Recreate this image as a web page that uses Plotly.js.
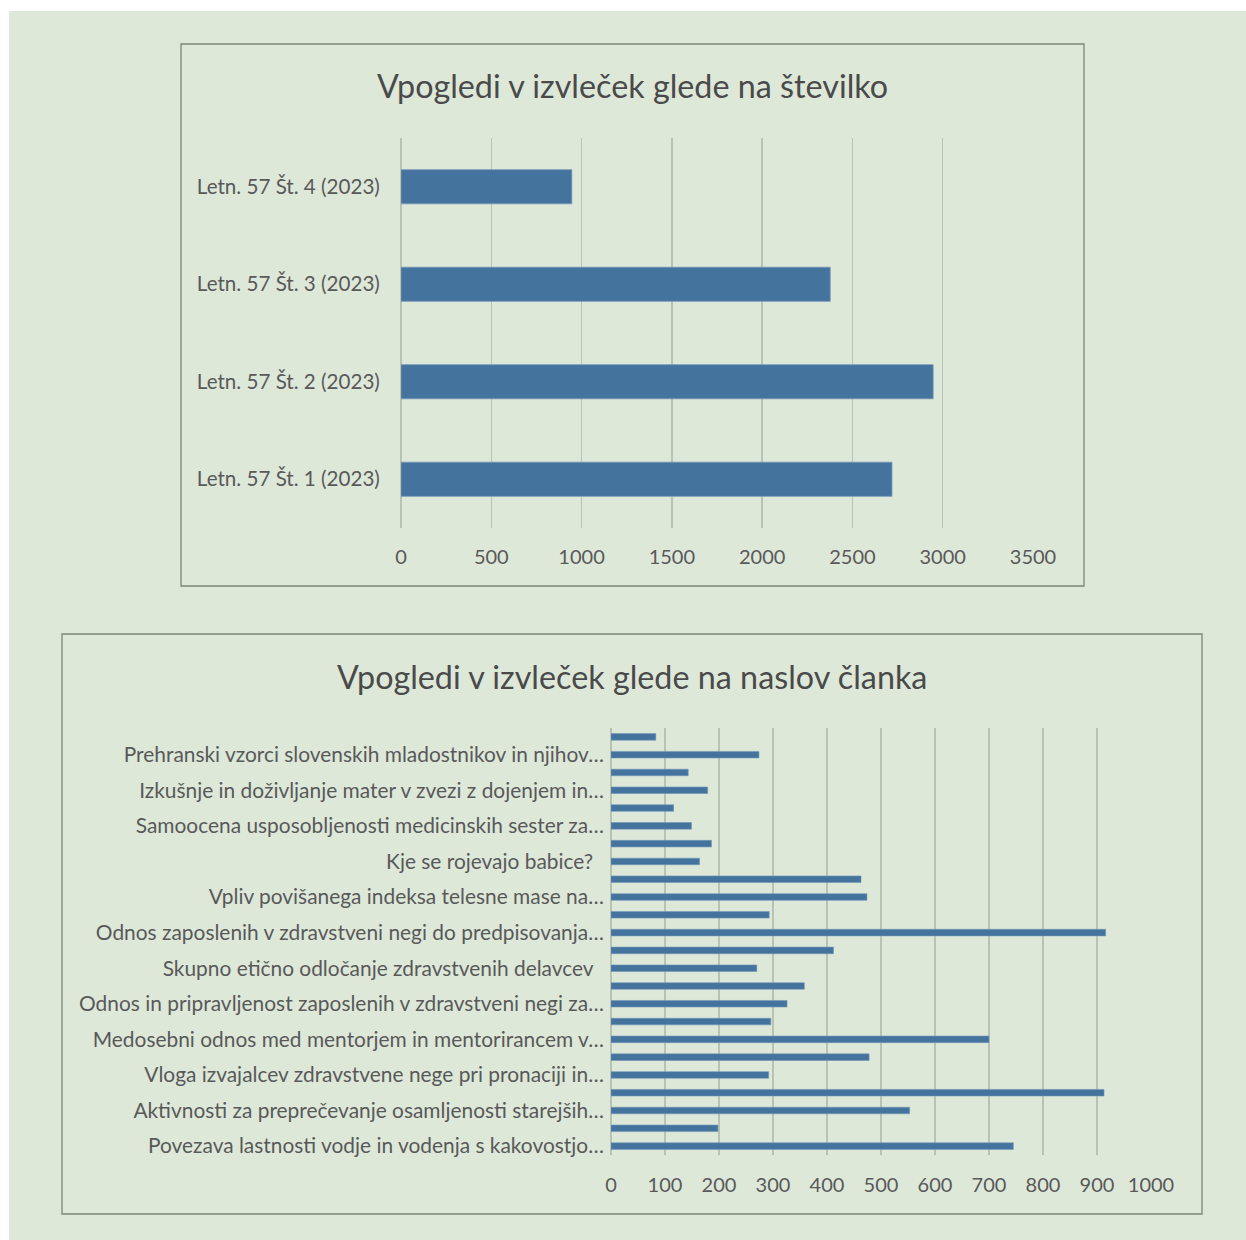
<!DOCTYPE html>
<html>
<head>
<meta charset="utf-8">
<script src="https://cdn.plot.ly/plotly-3.0.1.min.js"></script>
<style>
  html, body { margin: 0; padding: 0; background: #ffffff; }
  #chart { width: 1246px; height: 1240px; }
</style>
</head>
<body>
<div id="chart"></div>
<script>
// ---- Data (bottom-to-top order, as drawn on a horizontal bar axis) ----
const issueLabels = [
  "Letn. 57 Št. 1 (2023)",
  "Letn. 57 Št. 2 (2023)",
  "Letn. 57 Št. 3 (2023)",
  "Letn. 57 Št. 4 (2023)"
];
const issueViews = [2719, 2947, 2377, 946];

// Article titles; only every second one is shown as a tick label in the original
const articleTitles = [
  "Povezava lastnosti vodje in vodenja s kakovostjo…",
  "Članek 2",
  "Aktivnosti za preprečevanje osamljenosti starejših…",
  "Članek 4",
  "Vloga izvajalcev zdravstvene nege pri pronaciji in…",
  "Članek 6",
  "Medosebni odnos med mentorjem in mentorirancem v…",
  "Članek 8",
  "Odnos in pripravljenost zaposlenih v zdravstveni negi za…",
  "Članek 10",
  "Skupno etično odločanje zdravstvenih delavcev\u00a0\u00a0",
  "Članek 12",
  "Odnos zaposlenih v zdravstveni negi do predpisovanja…",
  "Članek 14",
  "Vpliv povišanega indeksa telesne mase na…",
  "Članek 16",
  "Kje se rojevajo babice?\u00a0\u00a0",
  "Članek 18",
  "Samoocena usposobljenosti medicinskih sester za…",
  "Članek 20",
  "Izkušnje in doživljanje mater v zvezi z dojenjem in…",
  "Članek 22",
  "Prehranski vzorci slovenskih mladostnikov in njihov…",
  "Članek 24"
];
const articleViews = [
  745, 198, 553, 913, 292, 478, 700, 296, 326, 358, 270, 412,
  916, 293, 474, 463, 164, 186, 149, 116, 179, 143, 274, 83
];
const shownArticleTicks = articleTitles.filter((t, i) => i % 2 === 0);

const title1 = "Vpogledi v izvleček glede na številko";
const title2 = "Vpogledi v izvleček glede na naslov članka";

// ---- Layout helpers (pixel -> paper) ----
const W = 1246, H = 1240;
const px = x => x / W;
const py = y => 1 - y / H;

const FONT = "Lato, 'Open Sans', sans-serif";
const BAR = "#44739e";
const BAR_EDGE = "#7396b8";
const GRID = "#b8c3b4";
const BG = "#dde8d9";
const BORDER = "#7b857a";
const TXT = "#595959";

const traces = [
  {
    type: "bar", orientation: "h",
    x: issueViews, y: issueLabels,
    xaxis: "x", yaxis: "y",
    width: 0.35,
    marker: { color: BAR, line: { color: BAR_EDGE, width: 0.8 } },
    hoverinfo: "x+y"
  },
  {
    type: "bar", orientation: "h",
    x: articleViews, y: articleTitles,
    xaxis: "x2", yaxis: "y2",
    width: 0.37,
    marker: { color: BAR, line: { color: BAR_EDGE, width: 0.6 } },
    hoverinfo: "x+y"
  }
];

const axisCommon = {
  showgrid: true, gridcolor: GRID, gridwidth: 1.3,
  zeroline: true, zerolinecolor: GRID, zerolinewidth: 1.3,
  showline: false,
  tickfont: { family: FONT, size: 20, color: TXT },
  ticks: "outside", tickcolor: "rgba(0,0,0,0)",
  fixedrange: true
};

const layout = {
  width: W, height: H,
  margin: { l: 0, r: 0, t: 0, b: 0 },
  paper_bgcolor: "#ffffff",
  plot_bgcolor: "rgba(0,0,0,0)",
  showlegend: false,
  font: { family: FONT, color: TXT },
  xaxis: Object.assign({}, axisCommon, {
    domain: [px(401), px(1033)], anchor: "y",
    range: [0, 3500], dtick: 500, tick0: 0, ticklen: 11
  }),
  yaxis: {
    domain: [py(528), py(138)], anchor: "x",
    type: "category", range: [-0.5, 3.5],
    showgrid: false, zeroline: false, showline: false,
    ticks: "outside", ticklen: 16, tickcolor: "rgba(0,0,0,0)",
    tickfont: { family: FONT, size: 20.6, color: TXT },
    fixedrange: true
  },
  xaxis2: Object.assign({}, axisCommon, {
    domain: [px(611), px(1151)], anchor: "y2",
    range: [0, 1000], dtick: 100, tick0: 0, ticklen: 12
  }),
  yaxis2: {
    domain: [py(1155), py(728)], anchor: "x2",
    type: "category", range: [-0.5, 23.5],
    tickvals: shownArticleTicks, ticktext: shownArticleTicks,
    showgrid: false, zeroline: false, showline: false,
    ticks: "outside", ticklen: 2, tickcolor: "rgba(0,0,0,0)",
    tickfont: { family: FONT, size: 20.9, color: TXT },
    fixedrange: true
  },
  annotations: [
    {
      xref: "paper", yref: "paper", x: px(632), y: py(86),
      xanchor: "center", yanchor: "middle", showarrow: false,
      text: title1, font: { family: FONT, size: 32.3, color: "#4a4a4a" }
    },
    {
      xref: "paper", yref: "paper", x: px(632), y: py(676),
      xanchor: "center", yanchor: "middle", showarrow: false,
      text: title2, font: { family: FONT, size: 32.3, color: "#4a4a4a" }
    }
  ],
  shapes: [
    {
      type: "rect", xref: "paper", yref: "paper", layer: "below",
      x0: px(9), x1: 1, y0: 0, y1: py(11),
      fillcolor: BG, line: { width: 0 }
    },
    {
      type: "rect", xref: "paper", yref: "paper", layer: "below",
      x0: px(181), x1: px(1084), y0: py(586), y1: py(44),
      fillcolor: "rgba(0,0,0,0)", line: { color: BORDER, width: 1.3 }
    },
    {
      type: "rect", xref: "paper", yref: "paper", layer: "below",
      x0: px(62), x1: px(1202), y0: py(1214), y1: py(634),
      fillcolor: "rgba(0,0,0,0)", line: { color: BORDER, width: 1.3 }
    }
  ]
};

Plotly.newPlot("chart", traces, layout, { displayModeBar: false, staticPlot: true });
</script>
</body>
</html>
